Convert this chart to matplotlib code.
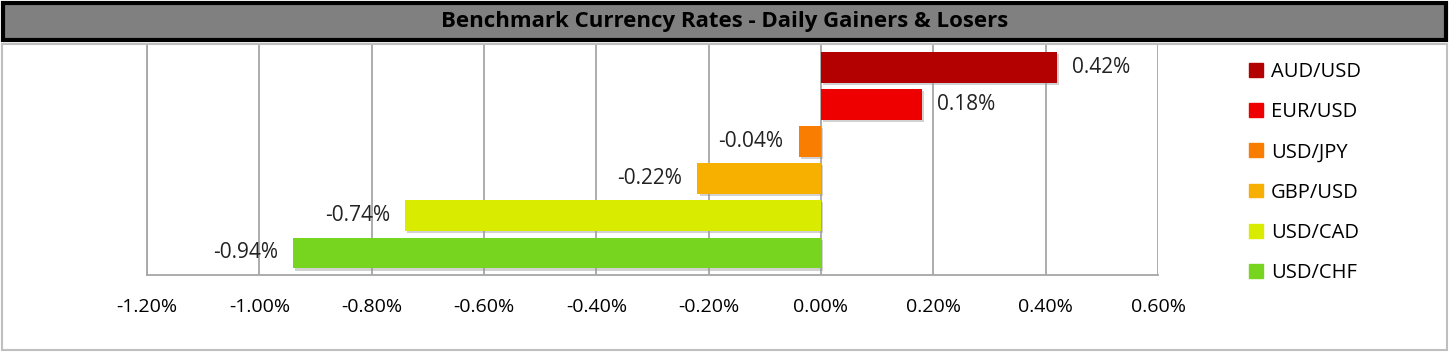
import matplotlib
matplotlib.use("Agg")
import matplotlib.pyplot as plt
from matplotlib.patches import Rectangle
from matplotlib.ticker import FuncFormatter, MultipleLocator
import matplotlib.patheffects as pe

plt.rcParams['font.family'] = ['Open Sans', 'DejaVu Sans']

pairs = ["AUD/USD", "EUR/USD", "USD/JPY", "GBP/USD", "USD/CAD", "USD/CHF"]
changes = [0.42, 0.18, -0.04, -0.22, -0.74, -0.94]
colors = ["#B30000", "#EE0000", "#F97D00", "#F8B000", "#D9EC00", "#77D41F"]
title = "Benchmark Currency Rates - Daily Gainers & Losers"

W, H = 1449, 352
fig = plt.figure(figsize=(W / 100, H / 100), dpi=100)

# outer chart border
fig.patches.append(Rectangle((2 / W, 2 / H), (W - 4) / W, (H - 4 - 42) / H,
                             transform=fig.transFigure, fill=False,
                             edgecolor="#BFBFBF", linewidth=1.5))
# title bar
fig.patches.append(Rectangle((3 / W, (H - 40) / H), (W - 6) / W, 37 / H,
                             transform=fig.transFigure, facecolor="#808080",
                             edgecolor="black", linewidth=3))
fig.text(0.5, (H - 22) / H, title, ha="center", va="center",
         fontsize=16, fontweight="bold", color="black",
         family=['Open Sans', 'DejaVu Sans'])

ax = fig.add_axes([147 / W, 77 / H, (1158 - 147) / W, (275 - 44) / H])
y = list(range(len(pairs)))
bars = ax.barh(y, changes, height=0.835, color=colors, zorder=3)
for b in bars:
    b.set_path_effects([pe.SimplePatchShadow(offset=(1.5, -1.5), shadow_rgbFace="#999999", alpha=0.45),
                        pe.Normal()])
ax.set_ylim(5.593, -0.633)
ax.set_xlim(-1.2, 0.6)
ax.xaxis.set_major_locator(MultipleLocator(0.2))
ax.xaxis.set_major_formatter(FuncFormatter(lambda v, p: f"{v:.2f}%"))
ax.set_yticks([])
ax.grid(axis="x", color="#A6A6A6", linewidth=1.3, zorder=0)
for s in ["top", "right"]:
    ax.spines[s].set_visible(False)
ax.spines["left"].set_color("#A6A6A6")
ax.spines["bottom"].set_color("#A6A6A6")
ax.spines["left"].set_linewidth(1.3)
ax.spines["bottom"].set_linewidth(1.3)
ax.tick_params(axis="x", length=0, labelsize=14, pad=16.5, colors="black")

for yi, v in zip(y, changes):
    if v >= 0:
        ax.annotate(f"{v:.2f}%", (v, yi), xytext=(11, 0), textcoords="offset points",
                    ha="left", va="center", fontsize=15, color="#222222")
    else:
        ax.annotate(f"{v:.2f}%", (v, yi), xytext=(-11, 0), textcoords="offset points",
                    ha="right", va="center", fontsize=15, color="#222222")

handles = [Rectangle((0, 0), 1, 1, color=c) for c in colors]
leg = fig.legend(handles, pairs, loc="upper left", bbox_to_anchor=(1233 / W, (H - 46) / H),
                 frameon=False, fontsize=14.5, handlelength=0.68, handleheight=0.68,
                 labelspacing=1.0, handletextpad=0.4, borderpad=0.3)

fig.savefig("out.png", dpi=100)
